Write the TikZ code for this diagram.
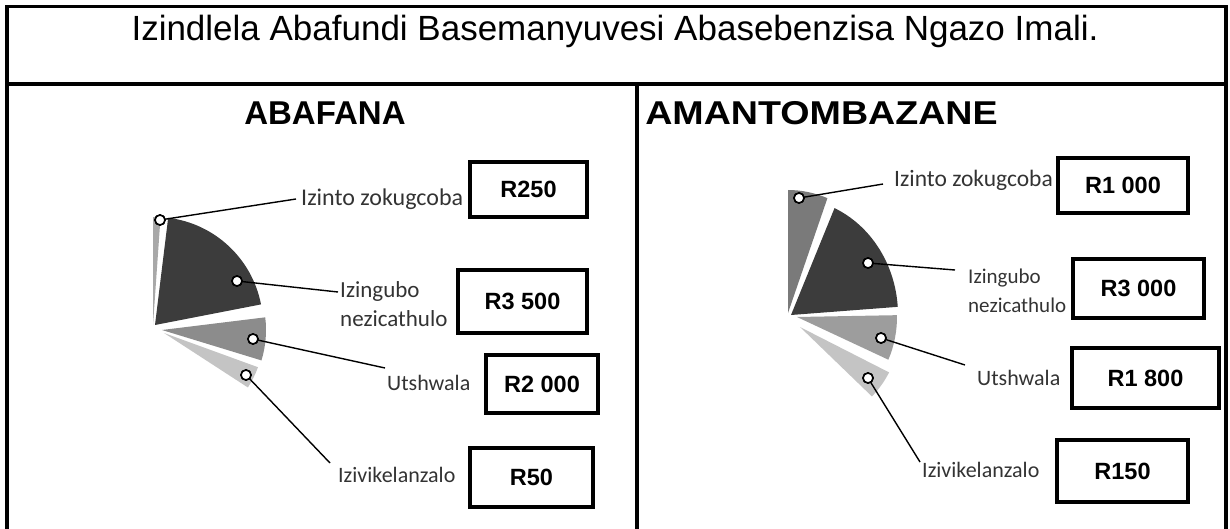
\documentclass[tikz,border=0pt]{standalone}
\usepackage{fontspec}
\setmainfont{Liberation Sans}
\newfontfamily\lblfont{Carlito}
\usetikzlibrary{calc}
\definecolor{pdark}{HTML}{3C3C3C}
\definecolor{pmid}{HTML}{8C8C8C}
\definecolor{pmidd}{HTML}{7A7A7A}
\definecolor{plight}{HTML}{C4C4C4}
\definecolor{psliver}{HTML}{A8A8A8}
\tikzset{
  frameline/.style={line width=3.5pt},
  valbox/.style={draw, line width=3.5pt, inner sep=0pt, font=\fontsize{23.5}{26}\selectfont\bfseries},
  lbl/.style={inner sep=0pt, anchor=west, text=black!80, font=\lblfont\fontsize{22}{29}\selectfont, align=left},
  leader/.style={line width=1.4pt},
  marker/.style={circle, draw, fill=white, line width=1.6pt, minimum size=10pt, inner sep=0pt},
  heading/.style={font=\fontsize{33}{36}\selectfont\bfseries, inner sep=0pt},
}
\begin{document}
\begin{tikzpicture}[x=1pt,y=1pt]
\useasboundingbox (0,0) rectangle (1230,528);
\begin{scope}
\clip (0,0) rectangle (1230,528);
% frame
\draw[frameline] (7,-5) -- (7,521.5) -- (1226,521.5) -- (1226,-5);
\draw[frameline] (7,444) -- (1226,444);
\draw[frameline] (637,444) -- (637,-5);
\end{scope}
% title and headings
\node[inner sep=0pt, font=\fontsize{35}{40}\selectfont] (title) at (615,497) {Izindlela Abafundi Basemanyuvesi Abasebenzisa Ngazo Imali.};
\node[heading] (hb) at (325,415) {ABAFANA};
\node[heading] (hg) at (821.5,415) {\scalebox{1.14}[1]{AMANTOMBAZANE}};
% left pie
\fill[psliver] (153,203) -- ++(86:108pt) arc[start angle=86, end angle=90, radius=108pt] -- cycle;
\fill[pdark] (155,203) -- ++(11:108pt) arc[start angle=11, end angle=83, radius=108pt] -- cycle;
\fill[pmid] (162,198) -- ++(-17:104pt) arc[start angle=-17, end angle=7, radius=104pt] -- cycle;
\fill[plight] (164,195) -- ++(-33:100pt) arc[start angle=-33, end angle=-20, radius=100pt] -- cycle;
% right pie
\fill[pmidd] (788,215) -- ++(69:110pt and 123pt) arc[start angle=69, end angle=90, x radius=110pt, y radius=123pt] -- cycle;
\fill[pdark] (791,213) -- ++(4:107pt and 117pt) arc[start angle=4, end angle=66, x radius=107pt, y radius=117pt] -- cycle;
\fill[pmid!85!white] (797,211) -- ++(-24:100pt and 105pt) arc[start angle=-24, end angle=1, x radius=100pt, y radius=105pt] -- cycle;
\fill[plight] (800,201) -- ++(-44:100pt) arc[start angle=-44, end angle=-27, radius=100pt] -- cycle;
% left markers and labels
\node[marker] (lm1) at (160,308) {};
\node[marker] (lm2) at (237,247) {};
\node[marker] (lm3) at (253,189) {};
\node[marker] (lm4) at (246,153) {};
\coordinate (le1) at (296,329);
\coordinate (le2) at (338,236);
\coordinate (le3) at (385,160);
\coordinate (le4) at (330,65);
\node[lbl, font=\lblfont\fontsize{24}{29}\selectfont] (ll1) at (301,329) {Izinto zokugcoba};
\node[lbl, font=\lblfont\fontsize{23}{29}\selectfont] (ll2) at (340,224) {Izingubo\\nezicathulo};
\node[lbl] (ll3) at (387,145) {Utshwala};
\node[lbl] (ll4) at (338,53) {Izivikelanzalo};
% right markers and labels
\node[marker] (rm1) at (799,330) {};
\node[marker] (rm2) at (868,265) {};
\node[marker] (rm3) at (881,190) {};
\node[marker] (rm4) at (868,150) {};
\coordinate (re1) at (883,344);
\coordinate (re2) at (955,258);
\coordinate (re3) at (965,163);
\coordinate (re4) at (920,66);
\node[lbl, font=\lblfont\fontsize{23.5}{29}\selectfont] (rl1) at (894,348) {Izinto zokugcoba};
\node[lbl, font=\lblfont\fontsize{21}{29}\selectfont] (rl2) at (968,237) {Izingubo\\nezicathulo};
\node[lbl] (rl3) at (977,150) {Utshwala};
\node[lbl] (rl4) at (922,58) {Izivikelanzalo};
% leaders
\foreach \m/\e in {lm1/le1,lm2/le2,lm3/le3,lm4/le4,rm1/re1,rm2/re2,rm3/re3,rm4/re4}
  \draw[leader] (\m.center) -- (\e);
\foreach \m in {lm1,lm2,lm3,lm4,rm1,rm2,rm3,rm4}
  \node[marker] at (\m) {};
% value boxes
\node[valbox, minimum width=117pt, minimum height=55pt] (lb1) at (528.5,338.5) {R250};
\node[valbox, minimum width=129pt, minimum height=63pt] (lb2) at (522.5,226.5) {R3 500};
\node[valbox, minimum width=112pt, minimum height=58pt] (lb3) at (542,144) {R2 000};
\node[valbox, minimum width=123pt, minimum height=59pt] (lb4) at (531.5,50.5) {R50};
\node[valbox, minimum width=130pt, minimum height=55pt] (rb1) at (1123,342.5) {R1 000};
\node[valbox, minimum width=131pt, minimum height=59pt] (rb2) at (1138.5,239.5) {R3 000};
\node[valbox, minimum width=147pt, minimum height=60pt] (rb3) at (1145.5,150) {R1 800};
\node[valbox, minimum width=131pt, minimum height=62pt] (rb4) at (1122.5,57) {R150};
\end{tikzpicture}
\end{document}
